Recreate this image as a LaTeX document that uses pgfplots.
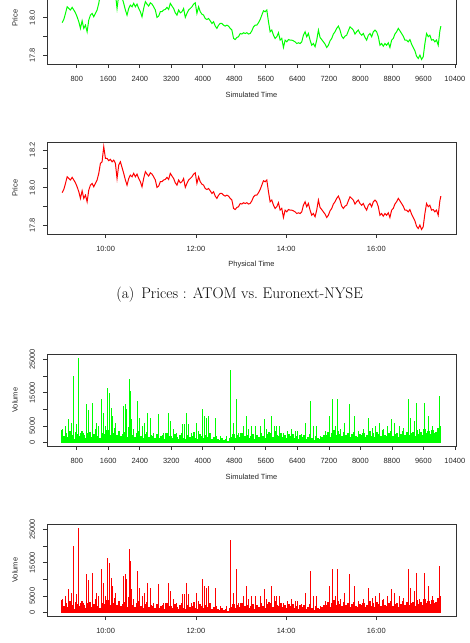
\documentclass[border=0pt]{standalone}
\usepackage{fontspec}
\usepackage{pgfplots}
\usepackage{pgfplotstable}
\pgfplotsset{compat=1.18}
\newfontfamily\rsans{Liberation Sans}
\definecolor{pgreen}{RGB}{0,255,0}
\definecolor{pred}{RGB}{255,0,0}

% price path: t = simulated clock, p = price
\pgfplotstableread{
t p
428 17.974
470 17.991
513 18.023
555 18.058
597 18.049
639 18.041
682 18.055
724 18.041
766 18.026
808 18.005
851 17.979
893 17.944
935 17.984
977 17.944
1020 17.961
1062 17.926
1104 17.988
1146 18.014
1189 18.023
1231 18.005
1273 18.023
1315 18.041
1358 18.076
1400 18.129
1442 18.137
1484 18.217
1527 18.155
1569 18.155
1611 18.143
1653 18.150
1696 18.137
1738 18.146
1780 18.129
1822 18.049
1865 18.120
1907 18.137
1949 18.107
1991 18.076
2034 18.041
2076 18.014
2118 18.049
2160 18.067
2203 18.058
2245 18.076
2287 18.058
2329 18.072
2372 18.049
2414 18.032
2456 18.005
2498 18.049
2541 18.085
2583 18.072
2625 18.062
2667 18.079
2710 18.072
2752 18.058
2794 18.041
2836 18.002
2879 18.009
2921 18.032
2963 18.032
3005 18.041
3048 18.044
3090 18.055
3132 18.044
3174 18.076
3217 18.062
3259 18.049
3301 18.026
3343 18.014
3386 18.041
3428 18.026
3470 18.032
3512 18.049
3555 18.002
3597 18.023
3639 18.041
3681 18.049
3724 18.058
3766 18.072
3808 18.079
3850 18.023
3893 18.058
3935 18.032
3977 18.019
4019 18.014
4062 17.996
4104 17.991
4146 17.996
4188 17.984
4231 17.970
4273 17.979
4315 17.956
4357 17.944
4400 17.961
4442 17.970
4484 17.970
4526 17.961
4569 17.956
4611 17.961
4653 17.956
4695 17.944
4738 17.935
4780 17.891
4822 17.885
4864 17.896
4907 17.900
4949 17.917
4991 17.914
5033 17.921
5076 17.917
5118 17.921
5160 17.914
5202 17.917
5245 17.931
5287 17.952
5329 17.961
5371 17.961
5414 17.974
5456 17.991
5498 18.014
5540 18.037
5583 18.032
5625 18.041
5667 17.979
5709 17.926
5752 17.935
5794 17.908
5836 17.891
5878 17.900
5921 17.921
5963 17.882
6005 17.891
6047 17.843
6090 17.882
6132 17.873
6174 17.885
6216 17.882
6259 17.882
6301 17.878
6343 17.873
6385 17.864
6428 17.868
6470 17.864
6512 17.873
6554 17.908
6597 17.926
6639 17.900
6681 17.917
6723 17.882
6766 17.855
6808 17.864
6850 17.847
6892 17.882
6935 17.935
6977 17.896
7019 17.885
7061 17.873
7104 17.861
7146 17.843
7188 17.855
7230 17.878
7273 17.891
7315 17.914
7357 17.926
7399 17.944
7442 17.956
7484 17.935
7526 17.903
7568 17.891
7611 17.903
7653 17.908
7695 17.931
7737 17.952
7780 17.944
7822 17.935
7864 17.914
7906 17.926
7949 17.935
7991 17.917
8033 17.908
8075 17.917
8118 17.896
8160 17.882
8202 17.908
8244 17.917
8287 17.900
8329 17.926
8371 17.935
8413 17.926
8456 17.900
8498 17.855
8540 17.864
8582 17.850
8625 17.864
8667 17.855
8709 17.868
8751 17.843
8794 17.882
8836 17.891
8878 17.914
8920 17.926
8963 17.944
9005 17.931
9047 17.917
9089 17.903
9132 17.882
9174 17.882
9216 17.873
9258 17.885
9301 17.861
9343 17.843
9385 17.826
9427 17.797
9470 17.785
9512 17.803
9554 17.780
9596 17.794
9639 17.864
9681 17.917
9723 17.900
9765 17.908
9808 17.882
9850 17.885
9892 17.873
9934 17.882
9977 17.855
10019 17.931
10044 17.956
}\pricetab

% background trading volume, sampled every 50 clock units
\pgfplotstableread{
t v
430 3800
480 2100
530 2900
580 1600
630 3400
680 2400
730 1200
780 3100
830 2600
880 1900
930 3600
980 2200
1030 1500
1080 2800
1130 3300
1180 1800
1230 2500
1280 4200
1330 2000
1380 1400
1430 3000
1480 2700
1530 1700
1580 3900
1630 2300
1680 1600
1730 2900
1780 4400
1830 2200
1880 3500
1930 1900
1980 2600
2030 3100
2080 1600
2130 4800
2180 3900
2230 2400
2280 1800
2330 2900
2380 3600
2430 2100
2480 1500
2530 2700
2580 3200
2630 1700
2680 2400
2730 2000
2780 1300
2830 2600
2880 1400
2930 1900
2980 2300
3030 1100
3080 2800
3130 1600
3180 2100
3230 1300
3280 2500
3330 1800
3380 1000
3430 2200
3480 2900
3530 1500
3580 1200
3630 2400
3680 1700
3730 2000
3780 3100
3830 1400
3880 1100
3930 2600
3980 1900
4030 1300
4080 2300
4130 1600
4180 2800
4230 1200
4280 1800
4330 2100
4380 1000
4430 900
4480 1300
4530 700
4580 1100
4630 600
4680 1400
4730 1800
4780 2500
4830 1300
4880 2200
4930 1600
4980 2900
5030 1100
5080 2000
5130 2400
5180 1500
5230 1900
5280 2700
5330 1200
5380 2300
5430 1700
5480 3000
5530 2100
5580 1400
5630 2600
5680 3300
5730 2900
5780 1800
5830 3500
5880 2400
5930 2000
5980 2800
6030 1600
6080 2200
6130 1300
6180 2500
6230 1900
6280 2700
6330 1500
6380 2100
6430 1200
6480 2400
6530 1600
6580 2300
6630 1000
6680 1800
6730 2500
6780 1300
6830 900
6880 2000
6930 1500
6980 1100
7030 1700
7080 2200
7130 2400
7180 3200
7230 1800
7280 2900
7330 3800
7380 2200
7430 3400
7480 2600
7530 1900
7580 3100
7630 2300
7680 2800
7730 1700
7780 2500
7830 3300
7880 2000
7930 1600
7980 2700
8030 2200
8080 3000
8130 1800
8180 2400
8230 3500
8280 2100
8330 2900
8380 1700
8430 3200
8480 2600
8530 2000
8580 3700
8630 2300
8680 1900
8730 2800
8780 3400
8830 2100
8880 2500
8930 3000
8980 1800
9030 2700
9080 3600
9130 2200
9180 3100
9230 2400
9280 2900
9330 3300
9380 2000
9430 3800
9480 2600
9530 3200
9580 2300
9630 4100
9680 2800
9730 3500
9780 2500
9830 3900
9880 2700
9930 3300
9980 4300
10030 3000
}\volbase

% large individual trades
\pgfplotstableread{
t v
445 4000
513 5000
580 7000
656 5800
724 20000
792 5500
842 25500
893 3000
977 3000
1054 11500
1104 9800
1189 12000
1290 6000
1358 5000
1417 13000
1468 9000
1535 5000
1586 16500
1620 15000
1670 10500
1704 8000
1780 6000
1975 11000
2025 11500
2059 10000
2127 19000
2152 15500
2177 7000
2228 4000
2346 12500
2389 7500
2456 5000
2515 6000
2591 9000
2667 7500
2752 3000
2862 8500
3005 3000
3132 9000
3174 6500
3259 4000
3327 3000
3496 5500
3538 5500
3589 9000
3639 5500
3724 3000
3834 6000
3893 3500
3994 10000
4036 8000
4087 7500
4155 8000
4205 3000
4315 7500
4442 2000
4611 2000
4712 22000
4780 6000
4848 13000
4907 3000
5033 5000
5110 8000
5160 4000
5245 5000
5329 5000
5456 5000
5557 7000
5625 4000
5735 8000
5811 5000
5878 5000
5946 5000
6047 3000
6149 3500
6259 4000
6343 3500
6411 3500
6512 2500
6597 6000
6723 12500
6808 5000
6876 5000
6977 2000
7104 3500
7214 8000
7298 13000
7357 5000
7416 13000
7484 4000
7585 6000
7721 11500
7839 8000
7949 3500
8075 4000
8202 7500
8312 4500
8397 5000
8481 6000
8582 4000
8684 5000
8794 7000
8878 6000
8988 5000
9089 4500
9216 13000
9275 7500
9368 6500
9427 12000
9495 4000
9639 12000
9740 8000
9833 5000
9892 3000
10002 14000
10044 5000
}\volspike

\newcommand\rfont{\rsans\fontsize{7.5}{9}\selectfont}

\pgfplotsset{
  rpanel/.style={
    scale only axis, width=409bp, height=91.5bp, anchor=south west,
    scaled ticks=false,
    axis line style={black!80, line width=0.8bp},
    tick style={black!80, line width=0.7bp},
    major tick length=4bp, tick align=outside, tick pos=left,
    /pgf/number format/assume math mode=true,
    tick label style={font=\rfont, text=black!85, inner sep=0pt},
    xticklabel style={anchor=base, yshift=-13.1bp},
    yticklabel style={xshift=-7.8bp, rotate=90, anchor=south},
    every axis x label/.style={at={(axis description cs:0.5,0)}, anchor=center,
      yshift=-30.7bp, font=\rfont, text=black!85},
    every axis y label/.style={at={(axis description cs:0,0.5)}, xshift=-32bp,
      rotate=90, anchor=center, font=\rfont, text=black!85},
  },
  simtime/.style={xmin=43.4, xmax=10428.6,
    xtick={800,1600,2400,3200,4000,4800,5600,6400,7200,8000,8800,9600,10400},
    xticklabels={800,1600,2400,3200,4000,4800,5600,6400,7200,8000,8800,9600,10400},
    xlabel={Simulated Time}},
  phystime/.style={xmin=8.699, xmax=17.766, xtick={10,12,14,16},
    xticklabels={10:00,12:00,14:00,16:00}},
  priceax/.style={ymin=17.756, ymax=18.239, ytick={17.8,17.9,18.0,18.1,18.2},
    yticklabels={17.8,,18.0,,18.2}, ylabel={Price}},
  volax/.style={ymin=-1020, ymax=26520, ytick={0,5000,10000,15000,20000,25000},
    yticklabels={0,5000,,15000,,25000}, ylabel={Volume}},
}

\begin{document}
\begin{tikzpicture}
% the page is this frame; the upper panel runs past its top edge
\useasboundingbox (0bp,0bp) rectangle (470bp,643bp);

% prices against the simulated clock
\begin{axis}[rpanel, simtime, priceax, yticklabels={17.8,,18.0,,}, at={(47bp,579bp)}]
\addplot[pgreen, line width=1bp] table[x=t, y=p]{\pricetab};
\end{axis}

% prices against the exchange clock
\begin{axis}[rpanel, phystime, priceax, xlabel={Physical Time}, at={(47bp,409bp)}]
\addplot[pred, line width=1bp] table[x expr=\thisrow{t}/1145.45+8.6613, y=p]{\pricetab};
\end{axis}

\node[font=\fontsize{15.4}{18}\selectfont] at (239.7bp,348bp) {(a)\hspace{0.45em}Prices : ATOM vs.\ Euronext-NYSE};

% volumes against the simulated clock
\begin{axis}[rpanel, simtime, volax, at={(47bp,197bp)}]
\addplot[ycomb, pgreen, line width=2.2bp] table[x=t, y=v]{\volbase};
\addplot[ycomb, pgreen, line width=1bp] table[x=t, y=v]{\volspike};
\end{axis}

% volumes against the exchange clock
\begin{axis}[rpanel, phystime, volax, at={(47bp,27bp)}]
\addplot[ycomb, pred, line width=2.2bp] table[x expr=\thisrow{t}/1145.45+8.6613, y=v]{\volbase};
\addplot[ycomb, pred, line width=1bp] table[x expr=\thisrow{t}/1145.45+8.6613, y=v]{\volspike};
\end{axis}
\end{tikzpicture}
\end{document}
